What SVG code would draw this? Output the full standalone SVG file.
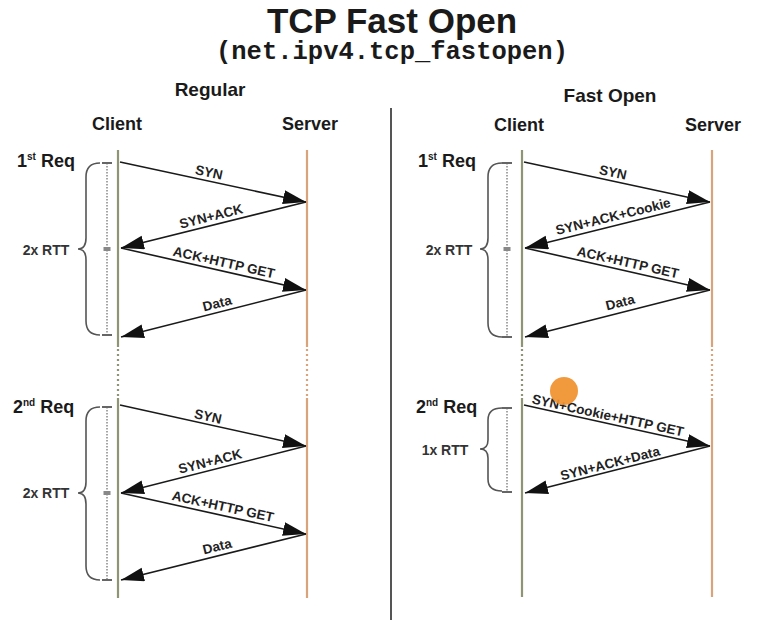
<svg xmlns="http://www.w3.org/2000/svg" width="773" height="620" viewBox="0 0 773 620">
<defs>
<marker id="ah" markerUnits="userSpaceOnUse" markerWidth="26" markerHeight="16" refX="23" refY="7" orient="auto">
<path d="M0,0 L23,7 L0,14 z" fill="#111"/>
</marker>
<style>
.t{font-family:"Liberation Sans",Arial,sans-serif;font-weight:bold;fill:#1a1a1a}
.lbl{font-family:"Liberation Sans",Arial,sans-serif;font-weight:bold;font-size:13.5px;fill:#222;text-anchor:middle}
.rtt{font-family:"Liberation Sans",Arial,sans-serif;font-weight:bold;font-size:14px;fill:#333;text-anchor:middle}
.req{font-family:"Liberation Sans",Arial,sans-serif;font-weight:bold;font-size:18px;fill:#1a1a1a}
.sup{font-size:10px}
.cl{stroke:#8e9474;stroke-width:2.2;fill:none}
.sv{stroke:#d9a37c;stroke-width:2.2;fill:none}
.dot{stroke-dasharray:2,3}
.arr{stroke:#1a1a1a;stroke-width:1.6;fill:none;marker-end:url(#ah)}
.brace{stroke:#555;stroke-width:1.6;fill:none}
.rul{stroke:#888;stroke-width:1.5;stroke-dasharray:1.5,1.5;fill:none}
.cap{stroke:#666;stroke-width:2;fill:none}
</style>
</defs>
<rect width="773" height="620" fill="#fff"/>

<g id="title">
<text class="t" x="392" y="33" font-size="35" text-anchor="middle">TCP Fast Open</text>
<text x="392" y="59" font-family="'Liberation Mono','DejaVu Sans Mono',monospace" font-weight="bold" font-size="25.5" fill="#1a1a1a" text-anchor="middle">(net.ipv4.tcp_fastopen)</text>
</g>

<g id="divider"><line x1="391" y1="108" x2="391" y2="620" stroke="#555" stroke-width="2"/></g>

<g id="headers">
<text class="t" x="210" y="96" font-size="19" text-anchor="middle">Regular</text>
<text class="t" x="610" y="102" font-size="19" text-anchor="middle">Fast Open</text>
<text class="t" x="117" y="130" font-size="18" text-anchor="middle">Client</text>
<text class="t" x="310" y="130" font-size="18" text-anchor="middle">Server</text>
<text class="t" x="519" y="131" font-size="18" text-anchor="middle">Client</text>
<text class="t" x="713" y="131" font-size="18" text-anchor="middle">Server</text>
</g>

<g id="lifelines">
<line class="cl" x1="118" y1="150" x2="118" y2="347"/>
<line class="cl dot" x1="118" y1="349" x2="118" y2="398"/>
<line class="cl" x1="118" y1="398" x2="118" y2="598"/>
<line class="sv" x1="307" y1="150" x2="307" y2="347"/>
<line class="sv dot" x1="307" y1="349" x2="307" y2="398"/>
<line class="sv" x1="307" y1="398" x2="307" y2="598"/>
<line class="cl" x1="522" y1="150" x2="522" y2="347"/>
<line class="cl dot" x1="522" y1="349" x2="522" y2="398"/>
<line class="cl" x1="522" y1="398" x2="522" y2="597"/>
<line class="sv" x1="712" y1="150" x2="712" y2="347"/>
<line class="sv dot" x1="712" y1="349" x2="712" y2="398"/>
<line class="sv" x1="712" y1="398" x2="712" y2="597"/>
</g>

<g id="req-labels">
<text class="req" x="17" y="167">1<tspan class="sup" dy="-7">st</tspan><tspan dy="7"> Req</tspan></text>
<text class="req" x="13" y="413">2<tspan class="sup" dy="-7">nd</tspan><tspan dy="7"> Req</tspan></text>
<text class="req" x="418" y="167">1<tspan class="sup" dy="-7">st</tspan><tspan dy="7"> Req</tspan></text>
<text class="req" x="416" y="413">2<tspan class="sup" dy="-7">nd</tspan><tspan dy="7"> Req</tspan></text>
</g>

<g id="rtt-left-1">
<path class="brace" d="M100,163 Q86,163 86,177 L86,238 Q86,249 78,249 Q86,249 86,260 L86,321 Q86,335 100,335"/>
<line class="rul" x1="107" y1="163" x2="107" y2="335"/>
<path class="cap" d="M102,163 H112 M102,335 H112"/>
<rect x="103.5" y="247" width="7" height="4" fill="#888"/>
<text class="rtt" x="46" y="255">2x RTT</text>
</g>
<g id="rtt-left-2">
<path class="brace" d="M100,407 Q86,407 86,421 L86,482 Q86,493 78,493 Q86,493 86,504 L86,566 Q86,580 100,580"/>
<line class="rul" x1="107" y1="407" x2="107" y2="580"/>
<path class="cap" d="M102,407 H112 M102,580 H112"/>
<rect x="103.5" y="491" width="7" height="4" fill="#888"/>
<text class="rtt" x="46" y="498">2x RTT</text>
</g>
<g id="rtt-right-1">
<path class="brace" d="M502,163 Q488,163 488,177 L488,238 Q488,249 480,249 Q488,249 488,260 L488,323 Q488,337 502,337"/>
<line class="rul" x1="507" y1="163" x2="507" y2="337"/>
<path class="cap" d="M502,163 H512 M502,337 H512"/>
<rect x="503.5" y="247" width="7" height="4" fill="#888"/>
<text class="rtt" x="449" y="255">2x RTT</text>
</g>
<g id="rtt-right-2">
<path class="brace" d="M502,408 Q488,408 488,420 L488,440 Q488,449 480,449 Q488,449 488,458 L488,479 Q488,491 502,491"/>
<line class="rul" x1="507" y1="408" x2="507" y2="492"/>
<path class="cap" d="M502,408 H512 M502,492 H512"/>
<text class="rtt" x="445" y="455">1x RTT</text>
</g>

<g id="connectors">
<line class="arr" x1="120" y1="162" x2="306" y2="202"/>
<line class="arr" x1="306" y1="202" x2="121" y2="248"/>
<line class="arr" x1="121" y1="248" x2="306" y2="290"/>
<line class="arr" x1="306" y1="290" x2="121" y2="337"/>
<line class="arr" x1="120" y1="405" x2="306" y2="446"/>
<line class="arr" x1="306" y1="446" x2="121" y2="493"/>
<line class="arr" x1="121" y1="493" x2="306" y2="534"/>
<line class="arr" x1="306" y1="534" x2="121" y2="580"/>
<line class="arr" x1="524" y1="162" x2="710" y2="202"/>
<line class="arr" x1="710" y1="202" x2="525" y2="248"/>
<line class="arr" x1="525" y1="248" x2="710" y2="290"/>
<line class="arr" x1="710" y1="290" x2="525" y2="337"/>
<line class="arr" x1="524" y1="405" x2="710" y2="446"/>
<line class="arr" x1="710" y1="446" x2="525" y2="493"/>
</g>

<g id="connector-labels">
<text class="lbl" transform="translate(209,172) rotate(12.1)" y="5">SYN</text>
<text class="lbl" transform="translate(211,216) rotate(-14)" y="5">SYN+ACK</text>
<text class="lbl" transform="translate(224,262) rotate(12.8)" y="5">ACK+HTTP GET</text>
<text class="lbl" transform="translate(217,303) rotate(-14.3)" y="5">Data</text>
<text class="lbl" transform="translate(208,416) rotate(12.4)" y="5">SYN</text>
<text class="lbl" transform="translate(210,461) rotate(-14.3)" y="5">SYN+ACK</text>
<text class="lbl" transform="translate(223,506) rotate(12.5)" y="5">ACK+HTTP GET</text>
<text class="lbl" transform="translate(217,546) rotate(-14)" y="5">Data</text>
<text class="lbl" transform="translate(613,172) rotate(12.1)" y="5">SYN</text>
<text class="lbl" transform="translate(613,216) rotate(-14)" y="5">SYN+ACK+Cookie</text>
<text class="lbl" transform="translate(628,262) rotate(12.8)" y="5">ACK+HTTP GET</text>
<text class="lbl" transform="translate(620,302) rotate(-14.3)" y="5">Data</text>
<text class="lbl" transform="translate(608,415) rotate(12.4)" y="5">SYN+Cookie+HTTP GET</text>
<text class="lbl" transform="translate(610,463) rotate(-14.3)" y="5">SYN+ACK+Data</text>
</g>

<circle cx="564" cy="391" r="14" fill="#f0902c" opacity="0.92"/>
</svg>
